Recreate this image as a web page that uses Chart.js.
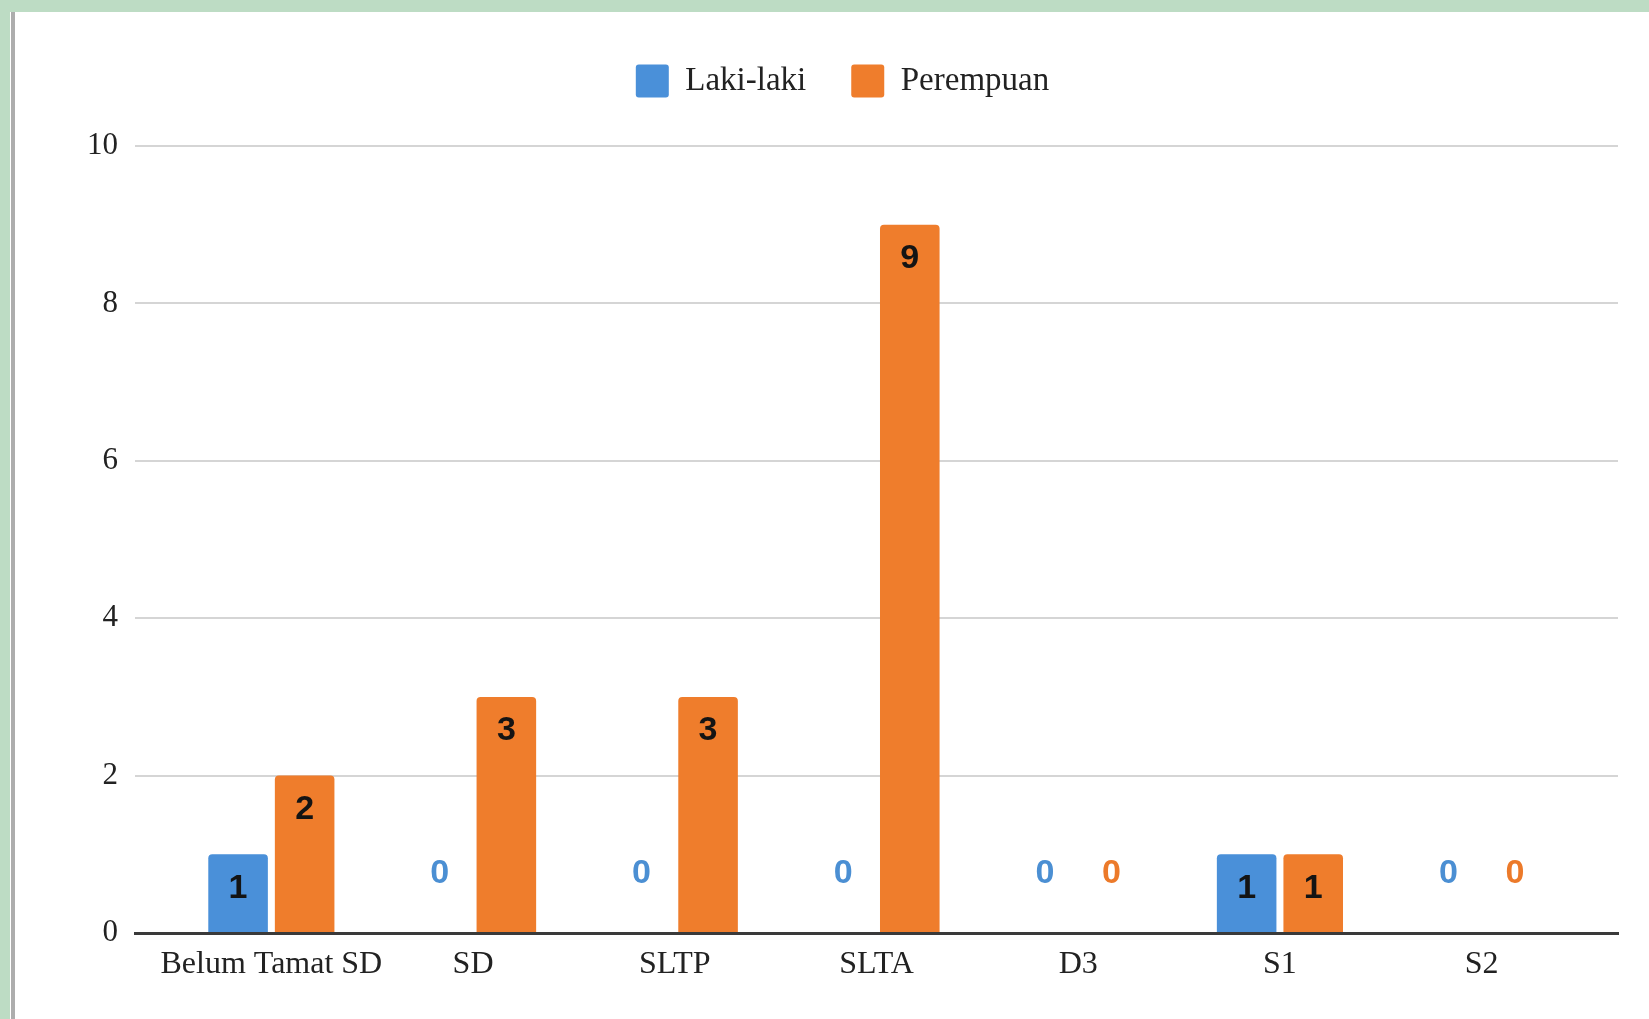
<!DOCTYPE html>
<html>
<head>
<meta charset="utf-8">
<script src="https://cdn.jsdelivr.net/npm/chart.js@4.4.1/dist/chart.umd.min.js"></script>
<style>
  html, body { margin: 0; padding: 0; background: #ffffff; width: 1649px; height: 1019px; overflow: hidden; }
  #topBand { position: absolute; left: 0; top: 0; width: 1649px; height: 12px; background: #bddcc4; }
  #leftBand { position: absolute; left: 0; top: 0; width: 10px; height: 1019px; background: #bddcc4; }
  #leftLine { position: absolute; left: 11px; top: 12px; width: 4px; height: 1007px; background: #adadad; }
  #wrap { position: absolute; left: 17px; top: 12px; width: 1632px; height: 1007px; }
</style>
</head>
<body>
<div id="topBand"></div>
<div id="leftBand"></div>
<div id="leftLine"></div>
<div id="wrap"><canvas id="c" width="1632" height="1007"></canvas></div>
<script>
const categories = ['Belum Tamat SD', 'SD', 'SLTP', 'SLTA', 'D3', 'S1', 'S2'];
const lakiLaki = [1, 0, 0, 0, 0, 1, 0];
const perempuan = [2, 3, 3, 9, 0, 1, 0];
const seriesNames = ['Laki-laki', 'Perempuan'];
const yTicks = [0, 2, 4, 6, 8, 10];

const blue = '#4a90d9';
const orange = '#ef7d2c';

const legendSpacer = {
  id: 'legendSpacer',
  beforeLayout(chart) {
    const lg = chart.legend;
    if (lg && !lg._patched) {
      const orig = lg.fit;
      lg.fit = function () { orig.call(this); this.height += 38.5; };
      lg._patched = true;
    }
  }
};

const valueLabels = {
  id: 'valueLabels',
  afterDatasetsDraw(chart) {
    const ctx = chart.ctx;
    ctx.save();
    ctx.font = 'bold 34px "Liberation Sans", Arial, sans-serif';
    ctx.textAlign = 'center';
    ctx.textBaseline = 'middle';
    chart.data.datasets.forEach((ds, di) => {
      const meta = chart.getDatasetMeta(di);
      meta.data.forEach((el, i) => {
        const v = ds.data[i];
        if (v > 0) {
          ctx.fillStyle = '#141414';
          ctx.fillText(String(v), el.x, el.y + 34);
        } else {
          ctx.fillStyle = ds.labelColor;
          ctx.fillText(String(v), el.x, el.y - 59);
        }
      });
    });
    ctx.restore();
  }
};

new Chart(document.getElementById('c'), {
  type: 'bar',
  data: {
    labels: categories,
    datasets: [
      { label: seriesNames[0], data: lakiLaki, backgroundColor: blue, labelColor: '#4b8fd3',
        borderRadius: 4, categoryPercentage: 0.66, barPercentage: 0.895 },
      { label: seriesNames[1], data: perempuan, backgroundColor: orange, labelColor: '#ec7a2a',
        borderRadius: 4, categoryPercentage: 0.66, barPercentage: 0.895 }
    ]
  },
  options: {
    responsive: false,
    animation: false,
    devicePixelRatio: 1,
    layout: { padding: { left: 50, right: 31, top: 7.5, bottom: 23.6 } },
    plugins: {
      legend: {
        position: 'top',
        align: 'center',
        labels: {
          boxWidth: 33, boxHeight: 33, padding: 45,
          useBorderRadius: true, borderRadius: 3,
          color: '#222222',
          font: { family: '"Liberation Serif", "Times New Roman", serif', size: 33 }
        }
      },
      tooltip: { enabled: false }
    },
    scales: {
      x: {
        grid: { display: false, drawTicks: false },
        border: { display: true, color: '#3a3a3a', width: 3 },
        ticks: {
          padding: 12, color: '#222222', maxRotation: 0, autoSkip: false,
          font: { family: '"Liberation Serif", "Times New Roman", serif', size: 32 }
        },
        afterBuildTicks(scale) {
          const e = 0.176;
          scale._startValue -= e;
          scale._valueRange += 2 * e;
        }
      },
      y: {
        min: yTicks[0], max: yTicks[yTicks.length - 1],
        afterBuildTicks(scale) { scale.ticks = yTicks.map(v => ({ value: v })); },
        afterFit(scale) { scale.width = 68; },
        grid: { color: '#d5d5d5', lineWidth: 2, drawTicks: false },
        border: { display: false },
        ticks: {
          padding: 17, color: '#222222',
          font: { family: '"Liberation Serif", "Times New Roman", serif', size: 31 }
        }
      }
    }
  },
  plugins: [legendSpacer, valueLabels]
});
</script>
</body>
</html>
